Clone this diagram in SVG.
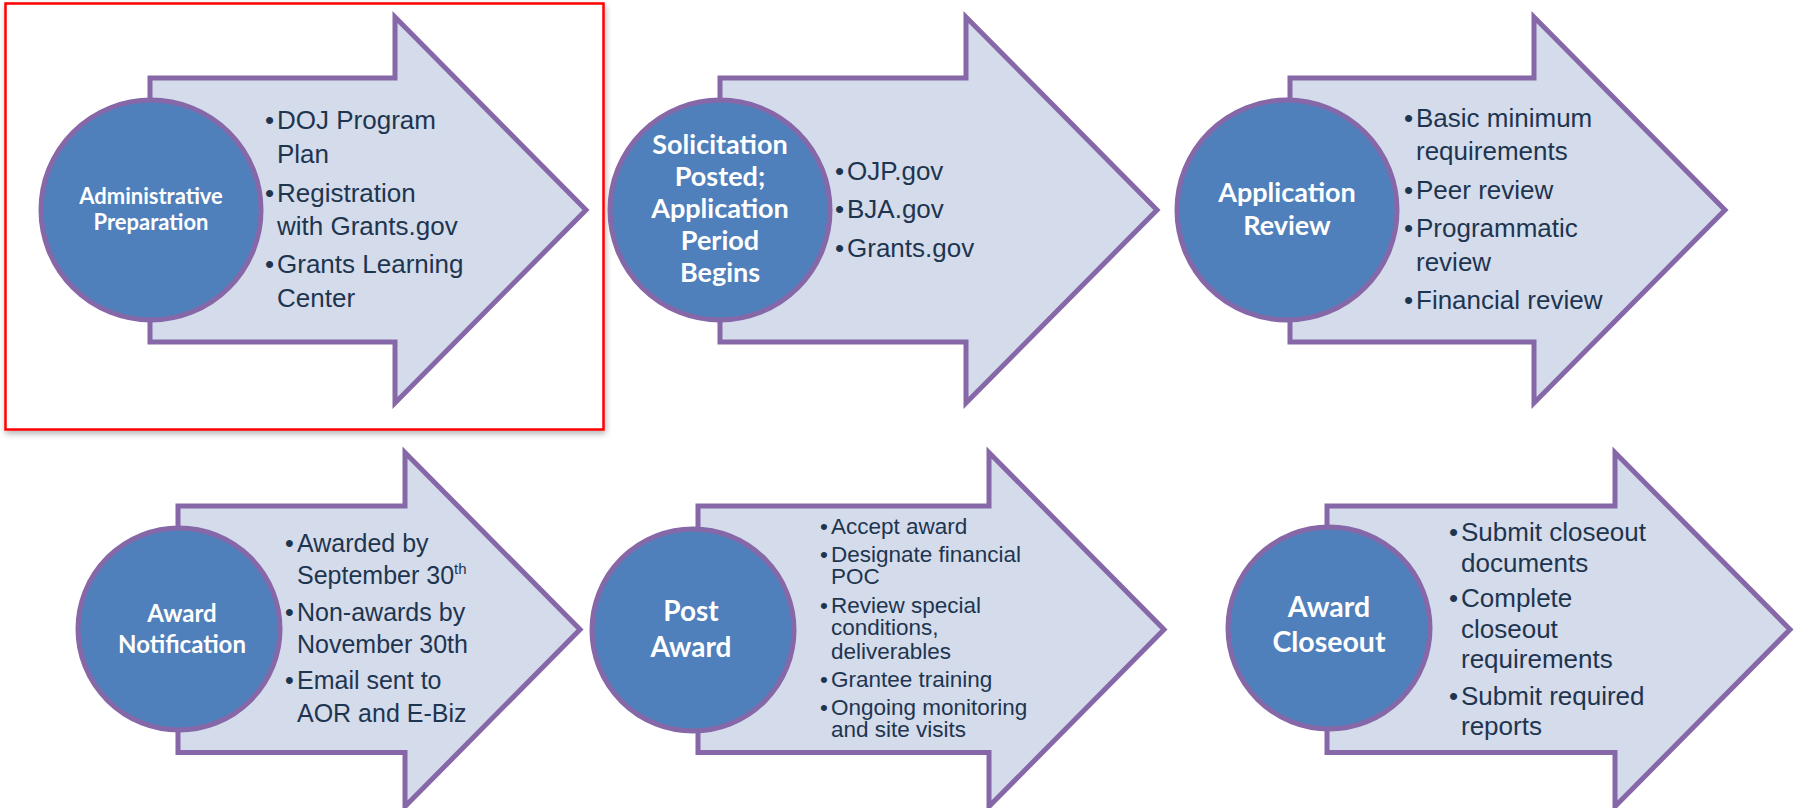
<svg xmlns="http://www.w3.org/2000/svg" width="1796" height="808" viewBox="0 0 1796 808">
<defs>
<filter id="sh" x="-5%" y="-5%" width="110%" height="112%">
<feGaussianBlur in="SourceAlpha" stdDeviation="3"/>
<feOffset dx="1" dy="3" result="b"/>
<feComponentTransfer><feFuncA type="linear" slope="0.3"/></feComponentTransfer>
<feMerge><feMergeNode/><feMergeNode in="SourceGraphic"/></feMerge>
</filter>
</defs>
<style>
.arr{fill:#D4DBEA;stroke:#8668A8;stroke-width:5;stroke-linejoin:miter}
.cir{fill:#4F80BC;stroke:#8668A8;stroke-width:5}
.lbl{font-family:Lato,"Open Sans",sans-serif;font-weight:bold;fill:#FFFFFF;text-anchor:middle}
.bt{font-family:"Liberation Sans",Arial,sans-serif;fill:#1E3550}
.b26{font-size:26px}
.b25{font-size:25px}
.b22{font-size:22.5px}
</style>
<rect x="5.5" y="3.5" width="598" height="426" fill="#FFFFFF" stroke="#FF0000" stroke-width="2.5" filter="url(#sh)"/>

<g id="node-admin-prep">
<polygon class="arr" points="150,78 395,78 395,17 586,210 395,403 395,342 150,342"/>
<circle class="cir" cx="151" cy="210" r="110"/>
<text class="lbl" font-size="22" x="151" y="204">Administrative</text>
<text class="lbl" font-size="22" x="151" y="230">Preparation</text>
<g class="bt b26">
<text x="265" y="129">•</text><text x="277" y="129">DOJ Program</text>
<text x="277" y="163">Plan</text>
<text x="265" y="202">•</text><text x="277" y="202">Registration</text>
<text x="277" y="235">with Grants.gov</text>
<text x="265" y="273">•</text><text x="277" y="273">Grants Learning</text>
<text x="277" y="307">Center</text>
</g>
</g>

<g id="node-solicitation">
<polygon class="arr" points="720,78 966,78 966,17 1157,210 966,403 966,342 720,342"/>
<circle class="cir" cx="720" cy="210" r="110"/>
<g class="lbl" font-size="27">
<text x="720" y="154">Solicitation</text>
<text x="720" y="186">Posted;</text>
<text x="720" y="218">Application</text>
<text x="720" y="250">Period</text>
<text x="720" y="282">Begins</text>
</g>
<g class="bt b26">
<text x="835" y="180">•</text><text x="847" y="180">OJP.gov</text>
<text x="835" y="218">•</text><text x="847" y="218">BJA.gov</text>
<text x="835" y="257">•</text><text x="847" y="257">Grants.gov</text>
</g>
</g>

<g id="node-app-review">
<polygon class="arr" points="1290,78 1534,78 1534,17 1725,210 1534,403 1534,342 1290,342"/>
<circle class="cir" cx="1287" cy="210" r="110"/>
<g class="lbl" font-size="27">
<text x="1287" y="202">Application</text>
<text x="1287" y="235">Review</text>
</g>
<g class="bt b26">
<text x="1404" y="127">•</text><text x="1416" y="127">Basic minimum</text>
<text x="1416" y="160">requirements</text>
<text x="1404" y="199">•</text><text x="1416" y="199">Peer review</text>
<text x="1404" y="237">•</text><text x="1416" y="237">Programmatic</text>
<text x="1416" y="271">review</text>
<text x="1404" y="309">•</text><text x="1416" y="309">Financial review</text>
</g>
</g>

<g id="node-award-notification">
<polygon class="arr" points="178,506 405,506 405,452.5 580,629.5 405,806.5 405,752.5 178,752.5"/>
<circle class="cir" cx="179" cy="629" r="101"/>
<g class="lbl" font-size="24">
<text x="182" y="622">Award</text>
<text x="182" y="653">Notification</text>
</g>
<g class="bt b25">
<text x="285" y="552">•</text><text x="297" y="552">Awarded by</text>
<text x="297" y="584">September 30<tspan font-size="15" dy="-10">th</tspan></text>
<text x="285" y="621">•</text><text x="297" y="621">Non-awards by</text>
<text x="297" y="653">November 30th</text>
<text x="285" y="689">•</text><text x="297" y="689">Email sent to</text>
<text x="297" y="722">AOR and E-Biz</text>
</g>
</g>

<g id="node-post-award">
<polygon class="arr" points="698,506 989,506 989,452.5 1164,629.5 989,806.5 989,752.5 698,752.5"/>
<circle class="cir" cx="693" cy="630" r="101"/>
<g class="lbl" font-size="28">
<text x="691" y="621">Post</text>
<text x="691" y="657">Award</text>
</g>
<g class="bt b22">
<text x="820" y="534">•</text><text x="831" y="534">Accept award</text>
<text x="820" y="562">•</text><text x="831" y="562">Designate financial</text>
<text x="831" y="584">POC</text>
<text x="820" y="613">•</text><text x="831" y="613">Review special</text>
<text x="831" y="635">conditions,</text>
<text x="831" y="659">deliverables</text>
<text x="820" y="687">•</text><text x="831" y="687">Grantee training</text>
<text x="820" y="715">•</text><text x="831" y="715">Ongoing monitoring</text>
<text x="831" y="737">and site visits</text>
</g>
</g>

<g id="node-award-closeout">
<polygon class="arr" points="1327,506 1615,506 1615,452.5 1790,629.5 1615,806.5 1615,752.5 1327,752.5"/>
<circle class="cir" cx="1329" cy="628" r="101"/>
<g class="lbl" font-size="28.5">
<text x="1329" y="617">Award</text>
<text x="1329" y="652">Closeout</text>
</g>
<g class="bt b26">
<text x="1449" y="541">•</text><text x="1461" y="541">Submit closeout</text>
<text x="1461" y="572">documents</text>
<text x="1449" y="607">•</text><text x="1461" y="607">Complete</text>
<text x="1461" y="638">closeout</text>
<text x="1461" y="668">requirements</text>
<text x="1449" y="705">•</text><text x="1461" y="705">Submit required</text>
<text x="1461" y="735">reports</text>
</g>
</g>

<g id="connectors"></g>
</svg>
